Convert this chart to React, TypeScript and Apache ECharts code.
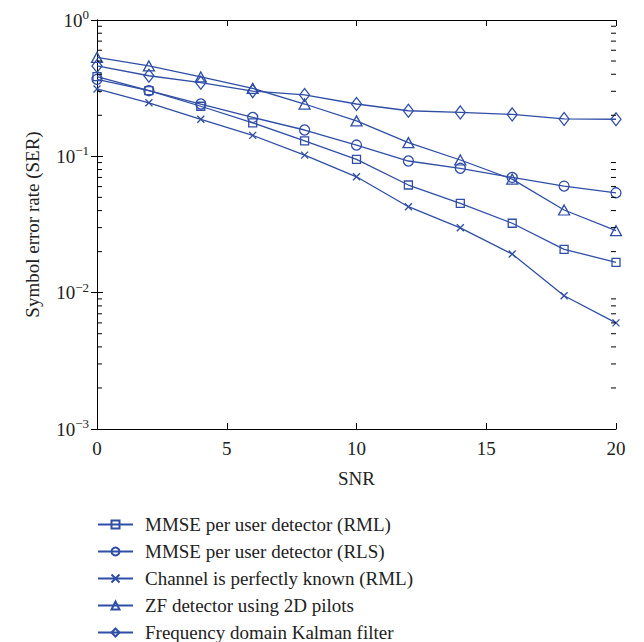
import React, { useEffect, useRef } from "react";
import * as echarts from "echarts";

const snr = [0, 2, 4, 6, 8, 10, 12, 14, 16, 18, 20];
const mmseRml = [0.384, 0.303, 0.233, 0.176, 0.13, 0.095, 0.0616, 0.0452, 0.0323, 0.0208, 0.0167];
const mmseRls = [0.367, 0.303, 0.242, 0.193, 0.156, 0.121, 0.0924, 0.0817, 0.07, 0.0605, 0.054];
const perfect = [0.312, 0.247, 0.187, 0.1425, 0.102, 0.0708, 0.0427, 0.0299, 0.0192, 0.0095, 0.006];
const zf2d = [0.532, 0.46, 0.382, 0.315, 0.242, 0.182, 0.126, 0.094, 0.068, 0.0404, 0.0285];
const kalman = [0.46, 0.39, 0.347, 0.301, 0.282, 0.242, 0.216, 0.21, 0.203, 0.188, 0.187];

const seriesNames = [
  "MMSE per user detector (RML)",
  "MMSE per user detector (RLS)",
  "Channel is perfectly known (RML)",
  "ZF detector using 2D pilots",
  "Frequency domain Kalman filter",
];

const X_MIN = 0;
const X_MAX = 20;
const X_STEP = 5;
const Y_MIN = 0.001;
const Y_MAX = 1;
const minorTickValues = [
  0.002, 0.003, 0.004, 0.005, 0.006, 0.007, 0.008, 0.009,
  0.02, 0.03, 0.04, 0.05, 0.06, 0.07, 0.08, 0.09,
  0.2, 0.3, 0.4, 0.5, 0.6, 0.7, 0.8, 0.9,
];

const BLUE = "#2f4ea6";
const FONT = "Liberation Serif";

export default function App() {
  const ref = useRef<HTMLDivElement>(null);

  useEffect(() => {
    if (!ref.current) return;
    const chart = echarts.init(ref.current, undefined, { renderer: "svg" });

    const mk = (name: string, values: number[], symbol: string, size: any) => ({
      name,
      type: "line",
      data: snr.map((x, i) => [x, values[i]]),
      symbol,
      symbolSize: size,
      showAllSymbol: true,
      lineStyle: { color: BLUE, width: 1.3 },
      itemStyle: { color: "rgba(0,0,0,0)", borderColor: BLUE, borderWidth: 1.3 },
      emphasis: { disabled: true },
      z: 3,
    });

    const minorSeries = (xVal: number, dir: number) => ({
      type: "custom",
      silent: true,
      clip: false,
      z: 6,
      data: minorTickValues.map((v) => [xVal, v]),
      renderItem: (params: any, api: any) => {
        const p = api.coord([api.value(0), api.value(1)]);
        return {
          type: "line",
          shape: { x1: p[0], y1: p[1], x2: p[0] + dir * 5, y2: p[1] },
          style: { stroke: "#000", lineWidth: 1 },
        };
      },
    });

    const sup = (v: number) => {
      const e = Math.round(Math.log10(v));
      const s = e < 0 ? "\u2212" + Math.abs(e) : String(e);
      return `{b|10}{s|${s}}`;
    };

    const axisLine = { show: true, lineStyle: { color: "#000", width: 1 } };

    chart.setOption({
      animation: false,
      backgroundColor: "#fff",
      textStyle: { fontFamily: FONT },
      grid: { left: 97, right: 28, top: 20, bottom: 213 },
      legend: {
        orient: "vertical",
        left: 97,
        top: 515,
        height: 140,
        padding: 0,
        itemWidth: 35,
        itemHeight: 10,
        itemGap: 8,
        data: seriesNames,
        textStyle: { fontFamily: FONT, fontSize: 19, color: "#222", lineHeight: 18, padding: [0, 0, 0, 7] },
      },
      xAxis: [
        {
          type: "value",
          min: X_MIN,
          max: X_MAX,
          interval: X_STEP,
          name: "SNR",
          nameLocation: "middle",
          nameGap: 40,
          nameTextStyle: { fontFamily: FONT, fontSize: 19, color: "#222" },
          axisLine,
          axisTick: { inside: true, length: 6, lineStyle: { color: "#000" } },
          axisLabel: { fontFamily: FONT, fontSize: 19, color: "#222", margin: 10 },
          splitLine: { show: false },
        },
        {
          type: "value",
          position: "top",
          min: X_MIN,
          max: X_MAX,
          interval: X_STEP,
          axisLine,
          axisTick: { inside: true, length: 6, lineStyle: { color: "#000" } },
          axisLabel: { show: false },
          splitLine: { show: false },
        },
      ],
      yAxis: [
        {
          type: "log",
          logBase: 10,
          min: Y_MIN,
          max: Y_MAX,
          name: "Symbol error rate (SER)",
          nameLocation: "middle",
          nameGap: 55,
          nameTextStyle: { fontFamily: FONT, fontSize: 19, color: "#222" },
          axisLine,
          axisTick: { inside: true, length: 6, lineStyle: { color: "#000" } },
          axisLabel: {
            margin: 8,
            formatter: sup,
            rich: {
              b: { fontFamily: FONT, fontSize: 19, color: "#222", lineHeight: 24 },
              s: { fontFamily: FONT, fontSize: 13, color: "#222", verticalAlign: "top", lineHeight: 14 },
            },
          },
          splitLine: { show: false },
        },
        {
          type: "log",
          logBase: 10,
          min: Y_MIN,
          max: Y_MAX,
          position: "right",
          axisLine,
          axisTick: { inside: true, length: 6, lineStyle: { color: "#000" } },
          axisLabel: { show: false },
          splitLine: { show: false },
        },
      ],
      series: [
        mk(seriesNames[0], mmseRml, "rect", 8),
        mk(seriesNames[1], mmseRls, "circle", 10),
        mk(seriesNames[2], perfect, "path://M0 0L10 10M10 0L0 10", 7),
        mk(seriesNames[3], zf2d, "triangle", [11, 10]),
        mk(seriesNames[4], kalman, "diamond", [10, 13]),
        minorSeries(X_MIN, 1),
        minorSeries(X_MAX, -1),
      ],
    });

    return () => chart.dispose();
  }, []);

  return (
    <div
      ref={ref}
      style={{ position: "fixed", left: 0, top: 0, width: 644, height: 642, background: "#fff" }}
    />
  );
}
